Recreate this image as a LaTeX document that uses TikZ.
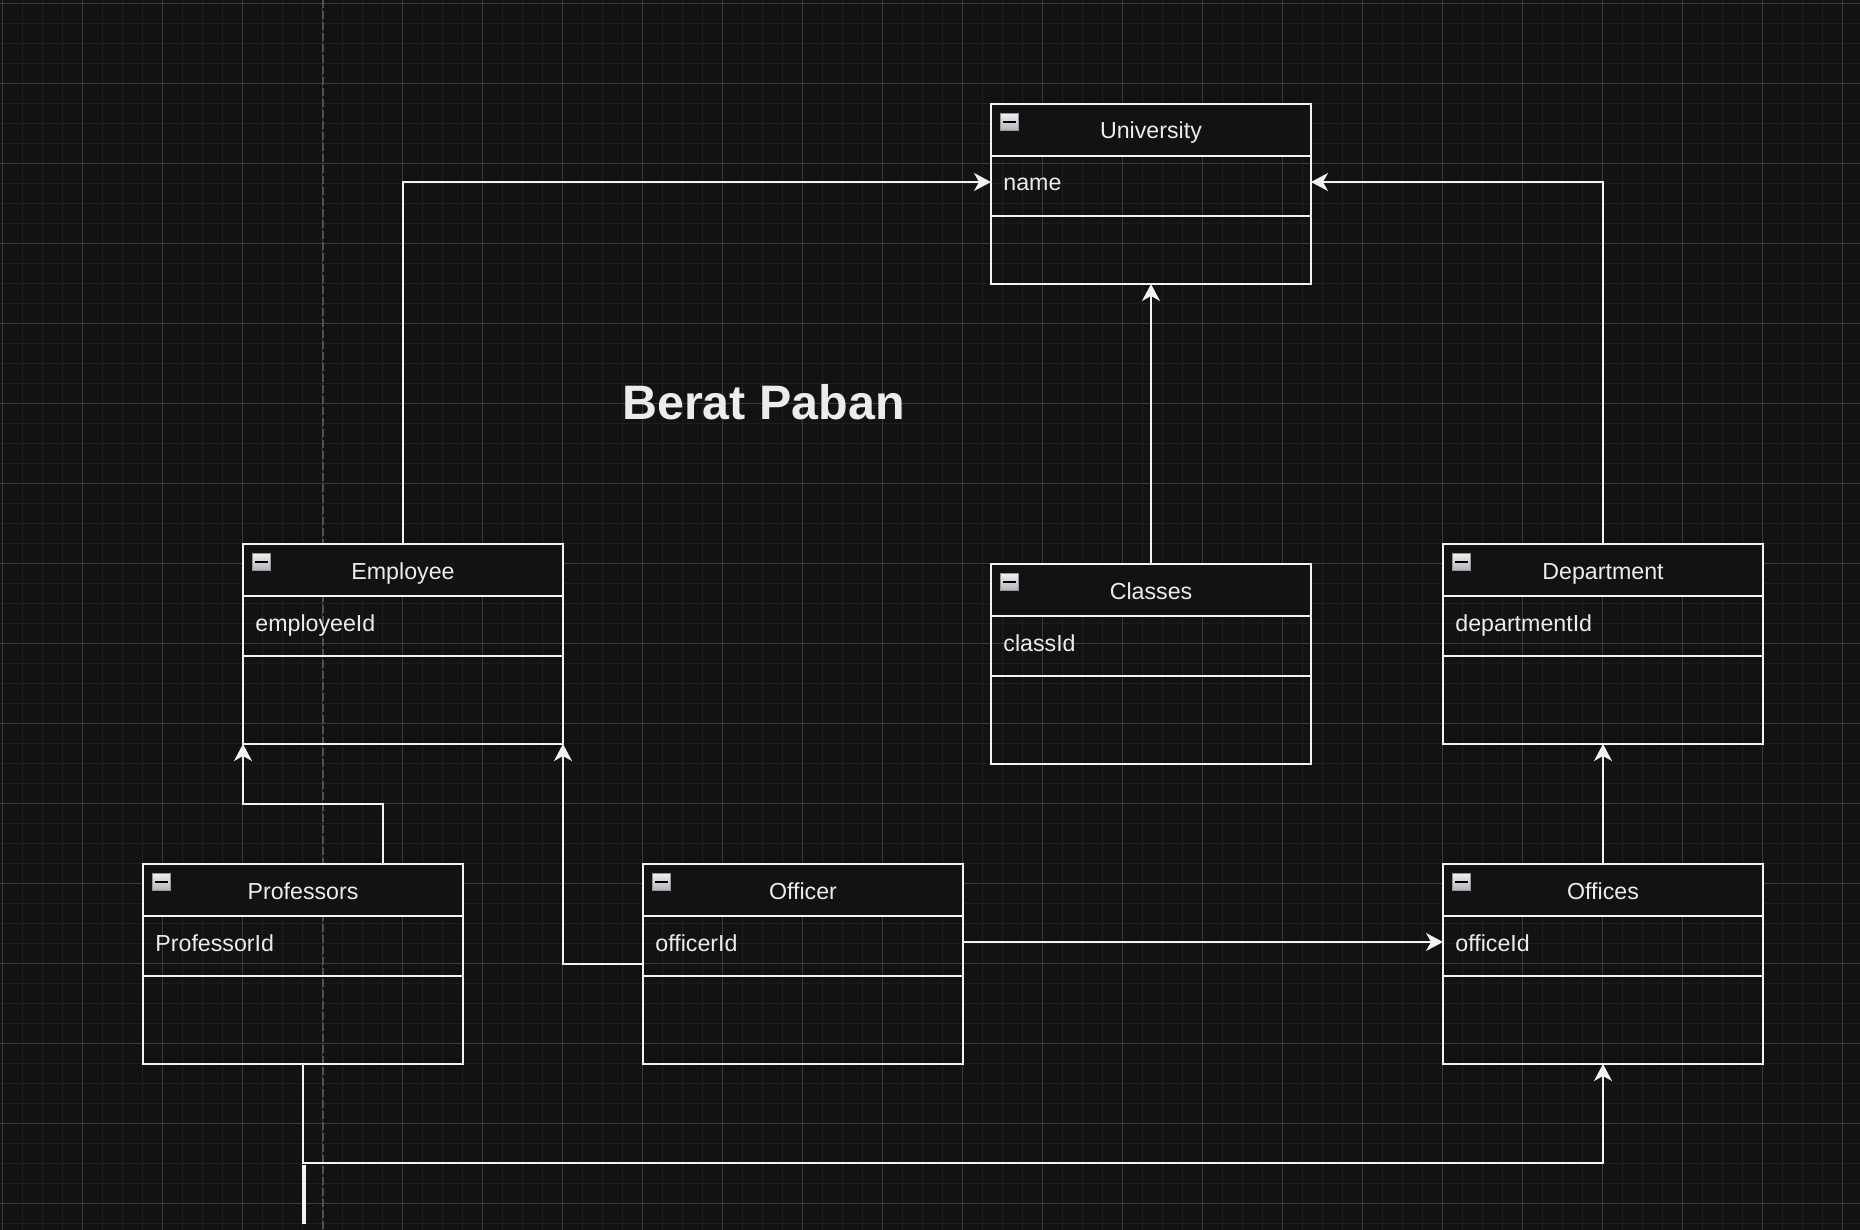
\documentclass[tikz,border=0pt]{standalone}
\usepackage{fontspec}
\setmainfont{Liberation Sans}
\usetikzlibrary{calc,arrows.meta}

\definecolor{canvas}{HTML}{121212}
\definecolor{minorline}{HTML}{1E1E1E}
\definecolor{majorline}{HTML}{3A3A3A}
\definecolor{dashline}{HTML}{505050}
\definecolor{edge}{HTML}{F2F2F2}
\definecolor{ink}{HTML}{ECECEC}
\definecolor{iconedge}{HTML}{8A96A8}

\tikzset{
  classbox/.style={draw=edge, line width=0.65pt, minimum width=160pt, inner sep=0pt, outer sep=0pt, anchor=north west},
  headbox/.style={classbox, fill=canvas, minimum height=26pt},
  edgeline/.style={draw=edge, line width=0.65pt},
  titletext/.style={text=ink, font=\fontsize{11.6}{13}\selectfont, inner sep=0pt, anchor=base},
  attrtext/.style={text=ink, font=\fontsize{11.6}{13}\selectfont, inner sep=0pt, anchor=base west},
  collapse/.style={draw=iconedge, line width=0.5pt, top color=white!94!black, bottom color=white!70!black,
    minimum width=9pt, minimum height=8.5pt, inner sep=0pt, anchor=north west},
  link/.style={draw=edge, line width=0.65pt, -{Stealth[length=8.5pt,width=9pt,inset=2.5pt]}},
  minorgrid/.style={draw=minorline, line width=0.5pt},
  majorgrid/.style={draw=majorline, line width=0.5pt}
}

% name, x, y, height (px), title, attribute
\newcommand{\umlentity}[6]{%
  \node[classbox, minimum height=#4*0.5pt] (#1) at (#2,#3) {};
  \node[headbox] (#1-head) at (#1.north west) {};
  \draw[edgeline] ($(#1.north west)+(0,112)$) -- ($(#1.north east)+(0,112)$);
  \node[titletext] (#1-title) at ($(#1.north)+(0,35)$) {#5};
  \node[attrtext] (#1-attr) at ($(#1.north west)+(12,87)$) {#6};
  \node[collapse] (#1-icon) at ($(#1.north west)+(9,9)$) {};
  \draw[black, line width=1pt] ($(#1-icon.west)+(3,0)$) -- ($(#1-icon.east)+(-3,0)$);
}

\begin{document}
\begin{tikzpicture}[x=0.5pt, y=-0.5pt]
  \useasboundingbox (0,0) rectangle (1860,1230);
  \fill[canvas] (0,0) rectangle (1860,1230);
  % grid
  \foreach \i in {0,...,93} \draw[minorgrid] ({2.5+20*\i},0) -- ({2.5+20*\i},1230);
  \foreach \j in {0,...,61} \draw[minorgrid] (0,{3.3+20*\j}) -- (1860,{3.3+20*\j});
  \foreach \i in {0,...,23} \draw[majorgrid] ({2.5+80*\i},0) -- ({2.5+80*\i},1230);
  \foreach \j in {0,...,15} \draw[majorgrid] (0,{3.3+80*\j}) -- (1860,{3.3+80*\j});
  \draw[dashline, line width=0.7pt, dash pattern=on 4pt off 1.5pt] (323,0) -- (323,1230);

  \node[text=ink, font=\bfseries\fontsize{24.2}{29}\selectfont, inner sep=0pt, anchor=base] (heading) at (763.5,420) {Berat Paban};

  \umlentity{univ}{991}{104}{180}{University}{name}
  \umlentity{emp}{243}{544}{200}{Employee}{employeeId}
  \umlentity{cls}{991}{564}{200}{Classes}{classId}
  \umlentity{dept}{1443}{544}{200}{Department}{departmentId}
  \umlentity{prof}{143}{864}{200}{Professors}{ProfessorId}
  \umlentity{offr}{643}{864}{200}{Officer}{officerId}
  \umlentity{offs}{1443}{864}{200}{Offices}{officeId}

  \draw[link] (emp.north) |- ($(univ.north west)+(0,78)$);
  \draw[link] (dept.north) |- ($(univ.north east)+(0,78)$);
  \draw[link] (cls.north) -- (univ.south);
  \draw[link] ($(prof.north)+(80,0)$) -- ++(0,-60) -| (emp.south west);
  \draw[link] (offr.west) -| (emp.south east);
  \draw[link] ($(offr.north east)+(0,78)$) -- ($(offs.north west)+(0,78)$);
  \draw[link] (offs.north) -- (dept.south);
  \draw[link] (prof.south) -- ++(0,99) -| (offs.south);
  \coordinate (stub) at ($(prof.south)+(1,100.5)$);
  \draw[edge, line width=1.8pt] (stub) -- ++(0,59.5);
\end{tikzpicture}
\end{document}
